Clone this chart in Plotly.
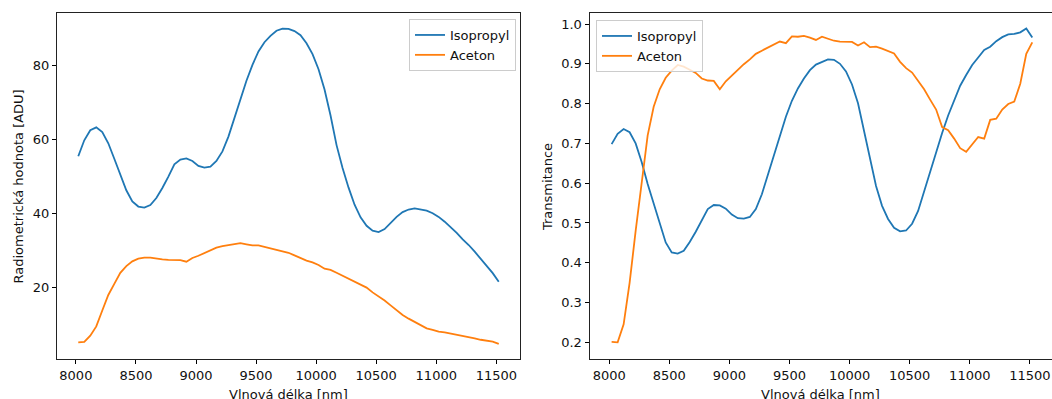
import plotly.graph_objects as go

W, H = 1052, 399

wavelength = list(range(8020, 11521, 50))

isopropyl_adu = [
    55.5, 59.8, 62.5, 63.3, 62.0, 59.0, 54.8, 50.3, 46.3, 43.3,
    41.9, 41.6, 42.3, 44.2, 46.9, 50.0, 53.3, 54.6, 54.9, 54.2,
    52.9, 52.4, 52.7, 54.2, 56.8, 60.8, 65.8, 71.3, 75.9, 80.2,
    83.8, 86.3, 88.0, 89.4, 90.0, 89.9, 89.3, 88.2, 86.0, 83.1,
    79.0, 73.5, 66.5, 58.5, 52.3, 47.0, 42.4, 39.0, 36.7, 35.4,
    35.0, 35.8, 37.4, 39.1, 40.4, 41.1, 41.4, 41.1, 40.8, 40.1,
    39.1, 37.8, 36.4, 34.8, 33.0, 31.5, 29.7, 27.8, 25.8, 23.9,
    21.6,
]

aceton_adu = [
    5.2, 5.3, 7.0, 9.5, 13.8, 18.0, 21.0, 24.0, 25.8, 27.1,
    27.8, 28.1, 28.1, 27.8, 27.6, 27.5, 27.4, 27.4, 27.0, 28.0,
    28.6, 29.4, 30.2, 30.8, 31.2, 31.5, 31.7, 32.0, 31.7, 31.4,
    31.4, 31.0, 30.7, 30.2, 29.7, 29.4, 28.7, 27.9, 27.3, 26.8,
    26.1, 25.1, 24.8, 24.0, 23.2, 22.5, 21.8, 21.0, 20.0, 18.7,
    17.7, 16.5, 15.2, 13.8, 12.6, 11.6, 10.7, 9.8, 9.0, 8.6,
    8.1, 7.9, 7.6, 7.4, 7.1, 6.8, 6.3, 5.9, 5.6, 5.4,
    4.8,
]

isopropyl_trans = [
    0.698, 0.724, 0.736, 0.728, 0.700, 0.653, 0.598, 0.548, 0.496, 0.451,
    0.426, 0.423, 0.430, 0.452, 0.478, 0.508, 0.535, 0.545, 0.544, 0.536,
    0.521, 0.512, 0.511, 0.515, 0.535, 0.572, 0.620, 0.671, 0.722, 0.767,
    0.807, 0.838, 0.863, 0.884, 0.898, 0.905, 0.911, 0.910, 0.900, 0.881,
    0.848, 0.801, 0.730, 0.657, 0.593, 0.543, 0.510, 0.488, 0.479, 0.481,
    0.498, 0.530, 0.580, 0.632, 0.681, 0.726, 0.770, 0.807, 0.845, 0.872,
    0.897, 0.916, 0.935, 0.943, 0.957, 0.967, 0.974, 0.975, 0.979, 0.989,
    0.966,
]

aceton_trans = [
    0.201, 0.200, 0.245, 0.350, 0.480, 0.604, 0.720, 0.792, 0.836, 0.865,
    0.883, 0.897, 0.893, 0.885, 0.877, 0.863, 0.858, 0.857, 0.836, 0.856,
    0.871, 0.885, 0.899, 0.911, 0.925, 0.933, 0.940, 0.949, 0.956, 0.952,
    0.969, 0.968, 0.970, 0.966, 0.960, 0.968, 0.963, 0.958, 0.956, 0.956,
    0.955, 0.946, 0.954, 0.942, 0.943, 0.938, 0.931, 0.926, 0.905, 0.889,
    0.878, 0.857, 0.836, 0.810, 0.785, 0.741, 0.733, 0.712, 0.688, 0.679,
    0.697, 0.716, 0.712, 0.759, 0.762, 0.785, 0.799, 0.805, 0.850, 0.925,
    0.954,
]

series_names = ["Isopropyl", "Aceton"]
x_ticks = [8000, 8500, 9000, 9500, 10000, 10500, 11000, 11500]
y_ticks_left = [20, 40, 60, 80]
y_ticks_right = [0.2, 0.3, 0.4, 0.5, 0.6, 0.7, 0.8, 0.9, 1.0]

BLUE = "#1f77b4"
ORANGE = "#ff7f0e"
FONT = "DejaVu Sans"
FS = 13

fig = go.Figure()
fig.add_trace(go.Scatter(x=wavelength, y=isopropyl_adu, mode="lines", name=series_names[0],
                         line=dict(color=BLUE, width=1.8), xaxis="x", yaxis="y", legend="legend"))
fig.add_trace(go.Scatter(x=wavelength, y=aceton_adu, mode="lines", name=series_names[1],
                         line=dict(color=ORANGE, width=1.8), xaxis="x", yaxis="y", legend="legend"))
fig.add_trace(go.Scatter(x=wavelength, y=isopropyl_trans, mode="lines", name=series_names[0],
                         line=dict(color=BLUE, width=1.8), xaxis="x2", yaxis="y2", legend="legend2"))
fig.add_trace(go.Scatter(x=wavelength, y=aceton_trans, mode="lines", name=series_names[1],
                         line=dict(color=ORANGE, width=1.8), xaxis="x2", yaxis="y2", legend="legend2"))

def px_x(p):
    return p / W

def px_y(p):
    return 1 - p / H

ydom = [px_y(359), px_y(13)]
axis_common = dict(showgrid=False, zeroline=False, ticks="outside", ticklen=4, tickwidth=1,
                   tickcolor="black", linecolor="#222222", linewidth=1, showline=True,
                   tickfont=dict(family=FONT, size=FS, color="#111111"))

legend_common = dict(bgcolor="rgba(255,255,255,0.8)", bordercolor="#cccccc", borderwidth=1,
                     font=dict(family=FONT, size=FS, color="#111111"), itemwidth=30,
                     tracegroupgap=0)

fig.update_layout(
    width=W, height=H,
    margin=dict(l=0, r=0, t=0, b=0),
    paper_bgcolor="white", plot_bgcolor="white",
    font=dict(family=FONT, size=FS, color="#111111"),
    xaxis=dict(domain=[px_x(57), px_x(520)], anchor="y", range=[7843, 11697],
               tickvals=x_ticks, tickformat="d", mirror=True, **axis_common),
    yaxis=dict(domain=ydom, anchor="x", range=[0.7, 94.2], tickvals=y_ticks_left,
               mirror=True, **axis_common),
    xaxis2=dict(domain=[px_x(589.5), 1.0], anchor="y2", range=[7836, 11684],
                tickvals=x_ticks, tickformat="d", mirror=True, **axis_common),
    yaxis2=dict(domain=ydom, anchor="x2", range=[0.158, 1.0277], tickvals=y_ticks_right,
                tickformat=".1f", mirror=False, **axis_common),
    legend=dict(x=px_x(516), y=px_y(19), xanchor="right", yanchor="top", **legend_common),
    legend2=dict(x=px_x(596), y=px_y(20), xanchor="left", yanchor="top", **legend_common),
    showlegend=True,
)

title_font = dict(family=FONT, size=FS, color="#111111")
fig.add_annotation(text="Vlnová délka [nm]", xref="x domain", yref="paper", x=0.5, y=px_y(385),
                   xanchor="center", yanchor="top", showarrow=False, font=title_font)
fig.add_annotation(text="Vlnová délka [nm]", xref="x2 domain", yref="paper", x=0.5, y=px_y(385),
                   xanchor="center", yanchor="top", showarrow=False, font=title_font)
fig.add_annotation(text="Radiometrická hodnota [ADU]", xref="paper", yref="paper",
                   x=px_x(17.5), y=px_y(187), xanchor="center", yanchor="middle",
                   textangle=-90, showarrow=False, font=title_font)
fig.add_annotation(text="Transmitance", xref="paper", yref="paper",
                   x=px_x(547), y=px_y(187), xanchor="center", yanchor="middle",
                   textangle=-90, showarrow=False, font=title_font)

fig.write_html("out.html")
